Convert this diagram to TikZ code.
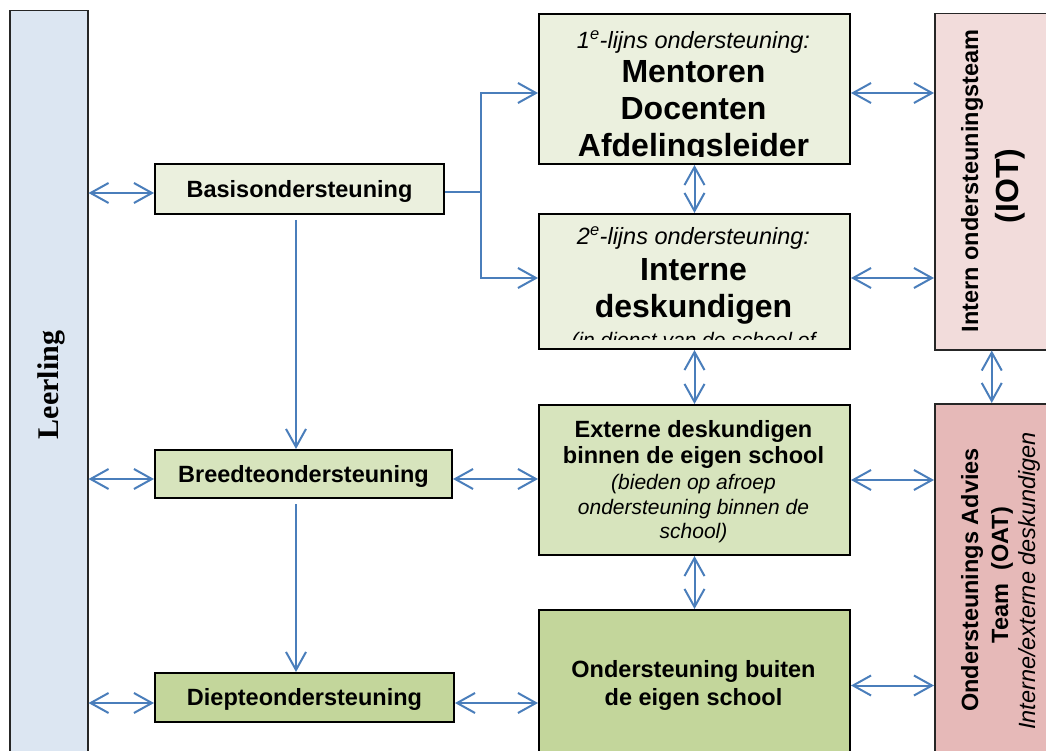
\documentclass[tikz,border=0pt]{standalone}
\usepackage{fontspec}
\setmainfont{Liberation Sans}
\newfontfamily\serifbold{Liberation Serif}
\usetikzlibrary{arrows.meta}
\definecolor{arrowblue}{HTML}{4A7EBB}
\definecolor{leerblue}{HTML}{DCE6F2}
\definecolor{pale}{HTML}{EBF0DE}
\definecolor{mid}{HTML}{D7E4BD}
\definecolor{deep}{HTML}{C3D69B}
\definecolor{pinkA}{HTML}{F2DCDB}
\definecolor{pinkB}{HTML}{E6B9B8}
\newcommand\fszA{\fontsize{23.5pt}{28pt}\selectfont}
\newcommand\fszB{\fontsize{32pt}{37pt}\selectfont}
\newcommand\fszC{\fontsize{21pt}{25pt}\selectfont}
\begin{document}
\begin{tikzpicture}[x=1pt,y=-1pt,
  box/.style={draw=black,line width=2pt,inner sep=0pt,anchor=north west},
  tall/.style={draw=black!85,line width=1.5pt,inner sep=0pt,anchor=north west},
  lbl/.style={font=\fszA\bfseries,text height=16.8pt,text depth=0pt},
  ln/.style={anchor=base,inner sep=0pt},
  rln/.style={anchor=base,inner sep=0pt,rotate=90},
  barb/.tip={Straight Barb[length=18pt,width=20pt]},
  conn/.style={draw=arrowblue,line width=2pt},
  one/.style={conn,-barb},
  dbl/.style={conn,barb-barb}]
\useasboundingbox (0,0) rectangle (1046,751);
\clip (0,0) rectangle (1046,751);

% boxes
\node[tall,fill=leerblue,minimum width=78pt,minimum height=750pt] (leer) at (9,10) {};
\node[rln,font=\serifbold\fontsize{30pt}{34pt}\selectfont\bfseries] (leertxt) at (58,385) {Leerling};

\node[box,fill=pale,minimum width=289pt,minimum height=50pt,lbl] (basis) at (154,163) {Basisondersteuning};
\node[box,fill=mid,minimum width=297pt,minimum height=48pt,lbl] (breed) at (154,449) {Breedteondersteuning};
\node[box,fill=deep,minimum width=299pt,minimum height=49pt,lbl] (diep) at (154,672) {Diepteondersteuning};

\node[box,fill=pale,minimum width=311pt,minimum height=150pt] (lijn1) at (538,13) {};
\node[box,fill=pale,minimum width=311pt,minimum height=135pt] (lijn2) at (538,213) {};
\node[box,fill=mid,minimum width=311pt,minimum height=150pt] (ext) at (538,404) {};
\node[box,fill=deep,minimum width=311pt,minimum height=151pt] (buit) at (538,609) {};

\node[tall,fill=pinkA,minimum width=116pt,minimum height=336pt] (iot) at (934,13) {};
\node[tall,fill=pinkB,minimum width=116pt,minimum height=357pt] (oat) at (934,403) {};

% texts of 1e-lijns box (clipped)
\begin{scope}
\clip (lijn1.north west) rectangle ([yshift=8pt]lijn1.south east);
\node[ln,font=\fszA\itshape] (t1a) at (693.5,49) {1\textsuperscript{e}-lijns ondersteuning:};
\node[ln,font=\fszB\bfseries] (t1b) at (693.5,83) {Mentoren};
\node[ln,font=\fszB\bfseries] (t1c) at (693.5,120) {Docenten};
\node[ln,font=\fszB\bfseries] (t1d) at (693.5,157) {Afdelingsleider};
\end{scope}

% texts of 2e-lijns box (clipped)
\begin{scope}
\clip (lijn2.north west) rectangle ([yshift=11pt]lijn2.south east);
\node[ln,font=\fszA\itshape] (t2a) at (693.5,245) {2\textsuperscript{e}-lijns ondersteuning:};
\node[ln,font=\fszB\bfseries] (t2b) at (693.5,280) {Interne};
\node[ln,font=\fszB\bfseries] (t2c) at (693.5,317) {deskundigen};
\node[ln,font=\fszC\itshape] (t2d) at (693.5,347) {(in dienst van de school of};
\end{scope}

% externe
\node[ln,font=\fszA\bfseries] (e1) at (693.5,437) {Externe deskundigen};
\node[ln,font=\fszA\bfseries] (e2) at (693.5,463) {binnen de eigen school};
\node[ln,font=\fszC\itshape] (e3) at (693.5,489) {(bieden op afroep};
\node[ln,font=\fszC\itshape] (e4) at (693.5,514) {ondersteuning binnen de};
\node[ln,font=\fszC\itshape] (e5) at (693.5,538) {school)};

% buiten
\node[ln,font=\fszA\bfseries] (b1) at (693.5,677) {Ondersteuning buiten};
\node[ln,font=\fszA\bfseries] (b2) at (693.5,705) {de eigen school};

% IOT
\node[rln,font=\fszA\bfseries] (i1) at (978,181) {Intern ondersteuningsteam};
\node[rln,font=\fszB\bfseries] (i2) at (1018,186) {(IOT)};

% OAT
\node[rln,font=\fszA\bfseries] (o1) at (978,580) {Ondersteunings Advies};
\node[rln,font=\fszA\bfseries] (o2) at (1008,575) {Team\ \ (OAT)};
\node[rln,font=\fszA\itshape] (o3) at (1035,581) {Interne/externe deskundigen};

% connectors: Leerling <-> levels
\coordinate (l1) at ([yshift=-4pt]basis.west);
\coordinate (l2) at ([yshift=-5pt]breed.west);
\coordinate (l3) at ([yshift=-5.5pt]diep.west);
\draw[dbl] (l1 -| leer.east) -- (l1);
\draw[dbl] (l2 -| leer.east) -- (l2);
\draw[dbl] (l3 -| leer.east) -- (l3);

% vertical flow left
\coordinate (v1) at ([xshift=-3.5pt]basis.south);
\draw[one,shorten <=5pt] (v1) -- (v1 |- breed.north);
\draw[one,shorten <=5pt] (v1 |- breed.south) -- (v1 |- diep.north);

% split from Basis
\coordinate (sp) at (481,192);
\draw[conn] (basis.east |- sp) -- (sp);
\draw[one] (sp) |- ([yshift=-4pt]lijn1.west);
\draw[one] (sp) |- ([yshift=3.5pt]lijn2.west);

% levels -> middle column
\coordinate (m2) at ([yshift=-5pt]breed.east);
\coordinate (m3) at ([yshift=-5.5pt]diep.east);
\draw[dbl] (m2) -- (m2 -| ext.west);
\draw[dbl] (m3) -- (m3 -| buit.west);

% middle column verticals
\draw[dbl] (lijn1.south) -- (lijn2.north);
\draw[dbl] (lijn2.south) -- (ext.north);
\draw[dbl] (ext.south) -- (buit.north);

% middle -> right
\coordinate (r1) at ([yshift=-4pt]lijn1.east);
\coordinate (r2) at ([yshift=3.5pt]lijn2.east);
\draw[dbl] (r1) -- (r1 -| iot.west);
\draw[dbl] (r2) -- (r2 -| iot.west);
\draw[dbl] (ext.east) -- (ext.east -| oat.west);
\draw[dbl] (buit.east) -- (buit.east -| oat.west);

% IOT <-> OAT
\draw[dbl] ([xshift=-1pt]iot.south) -- ([xshift=-1pt]oat.north);
\end{tikzpicture}
\end{document}
